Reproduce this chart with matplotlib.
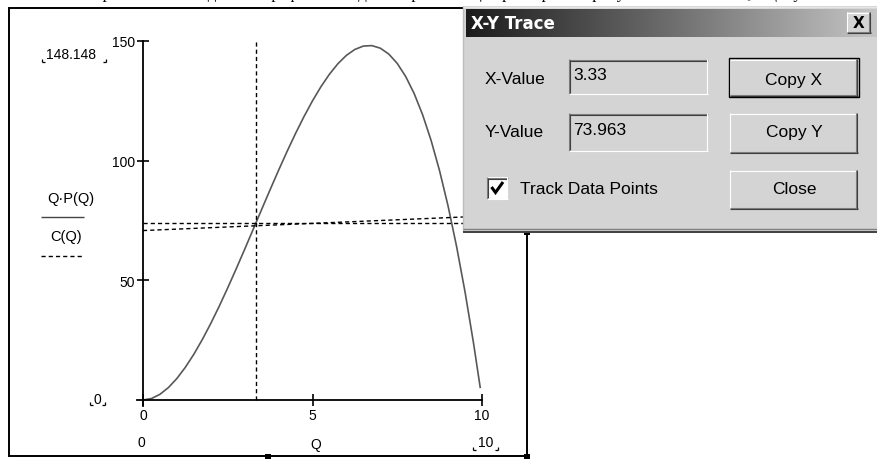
import numpy as np
import matplotlib.pyplot as plt
from matplotlib.patches import Rectangle
from matplotlib.colors import LinearSegmentedColormap

# revenue curve Q*P(Q)
q = [0, 0.25, 0.5, 0.75, 1, 1.25, 1.5, 1.75, 2, 2.25, 2.5, 2.75, 3, 3.25, 3.5,
     3.75, 4, 4.25, 4.5, 4.75, 5, 5.25, 5.5, 5.75, 6, 6.25, 6.5, 6.75, 7, 7.25,
     7.5, 7.75, 8, 8.25, 8.5, 8.75, 9, 9.25, 9.5, 9.75, 9.95]
revenue = [0, 0.61, 2.38, 5.2, 9, 13.67, 19.13, 25.27, 32, 39.23, 46.88, 54.83,
           63, 71.3, 79.63, 87.89, 96, 103.86, 111.38, 118.45, 125, 130.92,
           136.13, 140.52, 144, 146.48, 147.88, 148.08, 147, 144.55, 140.63,
           135.14, 128, 119.11, 108.38, 95.7, 81, 64.17, 45.13, 23.77, 4.95]

# cost curve C(Q)
q_cost = [0, 1, 2, 3, 4, 5, 6, 7, 8, 9, 10]
cost = [70.8, 71.4, 72.0, 72.6, 73.2, 73.8, 74.4, 75.0, 75.6, 76.2, 76.8]

trace_x = 3.33
trace_y = 73.963
x_ticks = [0, 5, 10]
y_ticks = [50, 100, 150]
y_top = 148.148

W, H = 878, 460
fig = plt.figure(figsize=(W / 100, H / 100), dpi=100)
fig.patch.set_facecolor('white')

ui = 'Liberation Sans'

# plot area: x 0..10 -> px 143..482, y 0..150 -> px 401..42
sx = (482 - 143) / 10
sy = (401 - 42) / 150
x0 = 143 - 0.5 * sx
x1 = 482 + 0.5 * sx
yb = 401 + 5 * sy
yt = 42 - 5 * sy
ax = fig.add_axes([x0 / W, 1 - yb / H, (x1 - x0) / W, (yb - yt) / H])
ax.set_zorder(1)
ax.patch.set_alpha(0)
ax.set_xlim(-0.5, 10.5)
ax.set_ylim(-5, 155)

ax.plot(q, revenue, color='#585858', lw=1.2, solid_capstyle='butt')
ax.plot(q_cost, cost, color='black', lw=1.0, ls=(0, (3, 2.2)))
ax.plot([trace_x, trace_x], [0, 150], color='black', lw=1.0, ls=(0, (3, 2.2)))
ax.plot([0, 10.5], [trace_y, trace_y], color='black', lw=1.0, ls=(0, (3, 2.2)))

for s in ['top', 'right']:
    ax.spines[s].set_visible(False)
ax.spines['left'].set_position(('data', 0))
ax.spines['bottom'].set_position(('data', 0))
ax.spines['left'].set_bounds(-2.5, 150)
ax.spines['bottom'].set_bounds(-0.18, 10)
for s in ['left', 'bottom']:
    ax.spines[s].set_linewidth(1.3)
ax.set_xticks(x_ticks)
ax.set_yticks(y_ticks)
ax.tick_params(direction='inout', length=9, width=1.2, pad=1.5,
               labelsize=10, colors='black')
for lab in ax.get_xticklabels() + ax.get_yticklabels():
    lab.set_family(ui)

# overlay in pixel coordinates for the worksheet frame and the trace window
ov = fig.add_axes([0, 0, 1, 1])
ov.set_zorder(2)
ov.axis('off')


def hline(xa, xb, y, c, lw=0.8, z=4):
    ov.plot([xa, xb], [y, y], color=c, lw=lw, solid_capstyle='butt', zorder=z)


def vline(x, ya, yb, c, lw=0.8, z=4):
    ov.plot([x, x], [ya, yb], color=c, lw=lw, solid_capstyle='butt', zorder=z)


def corners(xl, xr, y):
    vline(xl, y - 3, y, 'black', 0.9)
    hline(xl, xl + 3, y, 'black', 0.9)
    vline(xr, y - 3, y, 'black', 0.9)
    hline(xr - 3, xr, y, 'black', 0.9)


# clipped line of the document text above the region
ov.text(58, -1.5, 'Точка равновесия на данном графике находится при помощи трассировки: '
        'рисунок показывает Q и цену', family='Liberation Serif', fontsize=12,
        va='baseline', ha='left', color='black', zorder=0)

# worksheet region frame and handles
ov.add_patch(Rectangle((9, 9), 518, 448, fill=False, ec='black', lw=1.4, zorder=1))
for hx, hy in [(265, 455), (524, 455), (524, 230)]:
    ov.add_patch(Rectangle((hx, hy), 6, 6, fc='black', ec='none', zorder=1))

# plot labels
ov.text(71, 55, f'{y_top:.3f}', family=ui, fontsize=10, ha='center', va='center')
corners(42, 106, 63)
ov.text(71, 199, 'Q·P(Q)', family=ui, fontsize=10.5, ha='center', va='center')
hline(41, 84, 218, '#444444', 1.0)
ov.text(66, 237, 'C(Q)', family=ui, fontsize=10.5, ha='center', va='center')
ov.plot([41, 84], [257, 257], color='black', lw=1.0, ls=(0, (3, 2.2)))
ov.text(97, 400, '0', family=ui, fontsize=10, ha='center', va='center')
corners(90, 105, 406)
ov.text(141, 443, '0', family=ui, fontsize=10, ha='center', va='center')
ov.text(316, 445, 'Q', family=ui, fontsize=10, ha='center', va='center')
ov.text(486, 443, '10', family=ui, fontsize=10, ha='center', va='center')
corners(473, 498, 451)

# trace window
face = '#d4d4d4'
ov.add_patch(Rectangle((463, 7), 430, 226, fc=face, ec='none', zorder=2))
vline(463, 7, 232, '#bdbdbd', 1.0, z=3)
hline(463, 878, 7.5, '#e6e6e6', 1.0, z=3)
hline(463, 878, 230, '#808080', 1.0, z=3)
hline(463, 878, 232.5, '#404040', 1.4, z=3)

grad = np.linspace(0, 1, 256).reshape(1, -1)
tcmap = LinearSegmentedColormap.from_list('title', ['#1c1c1c', '#6e6e6e', '#c6c6c6'])
ov.imshow(grad, cmap=tcmap, extent=(466, 878, 38, 10), aspect='auto', zorder=3)
ov.text(471, 24, 'X-Y Trace', family='DejaVu Sans', weight='bold', fontsize=12,
        color='white', ha='left', va='center', zorder=5)


def raised(xa, ya, xb, yb, default=False):
    ov.add_patch(Rectangle((xa, ya), xb - xa, yb - ya, fc=face, ec='none', zorder=3))
    hline(xa, xb, ya + 0.5, 'white')
    vline(xa + 0.5, ya, yb, 'white')
    hline(xa, xb, yb - 1.5, '#808080')
    vline(xb - 1.5, ya, yb, '#808080')
    hline(xa, xb, yb - 0.5, '#404040')
    vline(xb - 0.5, ya, yb, '#404040')
    if default:
        ov.add_patch(Rectangle((xa - 1, ya - 1), xb - xa + 2, yb - ya + 2,
                               fill=False, ec='black', lw=1.0, zorder=5))


def sunken(xa, ya, xb, yb, fc):
    ov.add_patch(Rectangle((xa, ya), xb - xa, yb - ya, fc=fc, ec='none', zorder=3))
    hline(xa, xb, ya + 0.5, '#808080')
    vline(xa + 0.5, ya, yb, '#808080')
    hline(xa + 1, xb - 1, ya + 1.5, '#404040')
    vline(xa + 1.5, ya + 1, yb - 1, '#404040')
    hline(xa, xb, yb - 0.5, 'white')
    vline(xb - 0.5, ya, yb, 'white')


# close box in the title bar
raised(847, 13, 871, 34)
ov.text(859, 23.5, 'X', family='DejaVu Sans', weight='bold', fontsize=11,
        ha='center', va='center', zorder=5)

ov.text(485, 80, 'X-Value', family=ui, fontsize=12.5, ha='left', va='center', zorder=5)
sunken(569, 60, 708, 95, face)
ov.text(573, 75, f'{trace_x:.2f}', family=ui, fontsize=12.5, ha='left', va='center', zorder=5)
raised(730, 60, 858, 97, default=True)
ov.text(794, 80, 'Copy X', family=ui, fontsize=12.5, ha='center', va='center', zorder=5)

ov.text(485, 133, 'Y-Value', family=ui, fontsize=12.5, ha='left', va='center', zorder=5)
sunken(569, 114, 708, 152, face)
ov.text(573, 131, f'{trace_y:.3f}', family=ui, fontsize=12.5, ha='left', va='center', zorder=5)
raised(730, 114, 858, 154)
ov.text(794, 133, 'Copy Y', family=ui, fontsize=12.5, ha='center', va='center', zorder=5)

sunken(487, 178, 508, 200, 'white')
ov.plot([491.5, 495.5, 503], [188, 193.5, 183], color='black', lw=2.2, zorder=5,
        solid_capstyle='butt', solid_joinstyle='miter')
ov.text(520, 190, 'Track Data Points', family=ui, fontsize=12.5, ha='left',
        va='center', zorder=5)
raised(730, 171, 858, 210)
ov.text(794, 190, 'Close', family=ui, fontsize=12.5, ha='center', va='center', zorder=5)

ov.set_xlim(0, W)
ov.set_ylim(H, 0)

fig.savefig('out.png', dpi=100)
